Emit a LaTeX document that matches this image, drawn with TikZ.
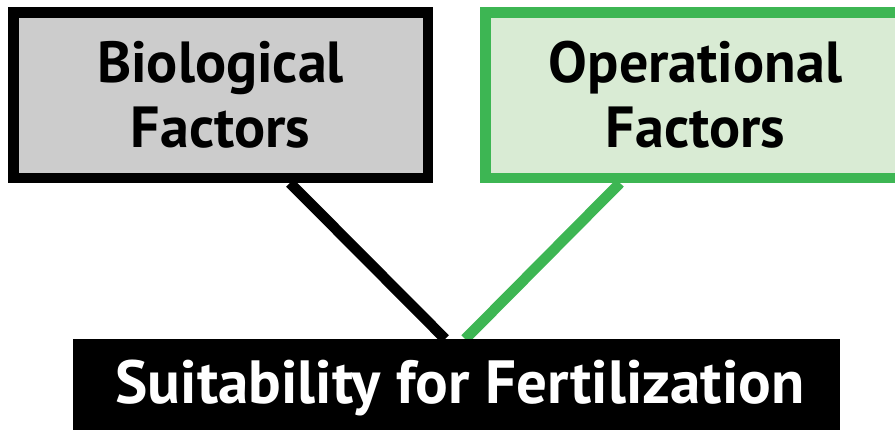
\documentclass[tikz,border=0pt]{standalone}
\usepackage{fontspec}
\setmainfont{PT Sans}
\usetikzlibrary{calc}
\pgfdeclarelayer{links}
\pgfsetlayers{links,main}
\definecolor{boxgray}{HTML}{CCCCCC}
\definecolor{leafgreen}{HTML}{3DB653}
\definecolor{palegreen}{HTML}{D9EBD4}
\tikzset{
  factorbox/.style={line width=10.5pt, minimum width=414.5pt, minimum height=165.5pt, inner sep=0pt, font=\bfseries\fontsize{58}{65}\selectfont, align=center},
  link/.style={line width=10.6pt},
  resultbox/.style={fill=black, text=white, minimum width=767pt, minimum height=101pt, inner sep=0pt, font=\bfseries\fontsize{61}{70}\selectfont}
}
\begin{document}
\begin{tikzpicture}[x=1pt,y=-1pt]
\useasboundingbox (0,0) rectangle (895,429);
\node[factorbox, draw=black, fill=boxgray] (bio) at (220.5,95) {Biological\\Factors};
\node[factorbox, draw=leafgreen, fill=palegreen, minimum width=420.5pt] (ops) at (695.5,95) {Operational\\Factors};
\node[resultbox, anchor=north west] (suit) at (73,339) {};
\node[text=white, font=\bfseries\fontsize{61}{70}\selectfont, anchor=base, inner sep=0pt] (suittext) at (460,403) {Suitability for Fertilization};
\coordinate (bioout) at ($(bio.south west)!0.6635!(bio.south east)$);
\coordinate (opsout) at ($(ops.south west)!0.3248!(ops.south east)$);
\coordinate (suitinL) at ($(suit.north west)!0.4850!(suit.north east)$);
\coordinate (suitinR) at ($(suit.north west)!0.5111!(suit.north east)$);
\begin{pgfonlayer}{links}
\draw[link, black] (bioout) -- (suitinL);
\draw[link, leafgreen] (opsout) -- (suitinR);
\end{pgfonlayer}
\end{tikzpicture}
\end{document}
